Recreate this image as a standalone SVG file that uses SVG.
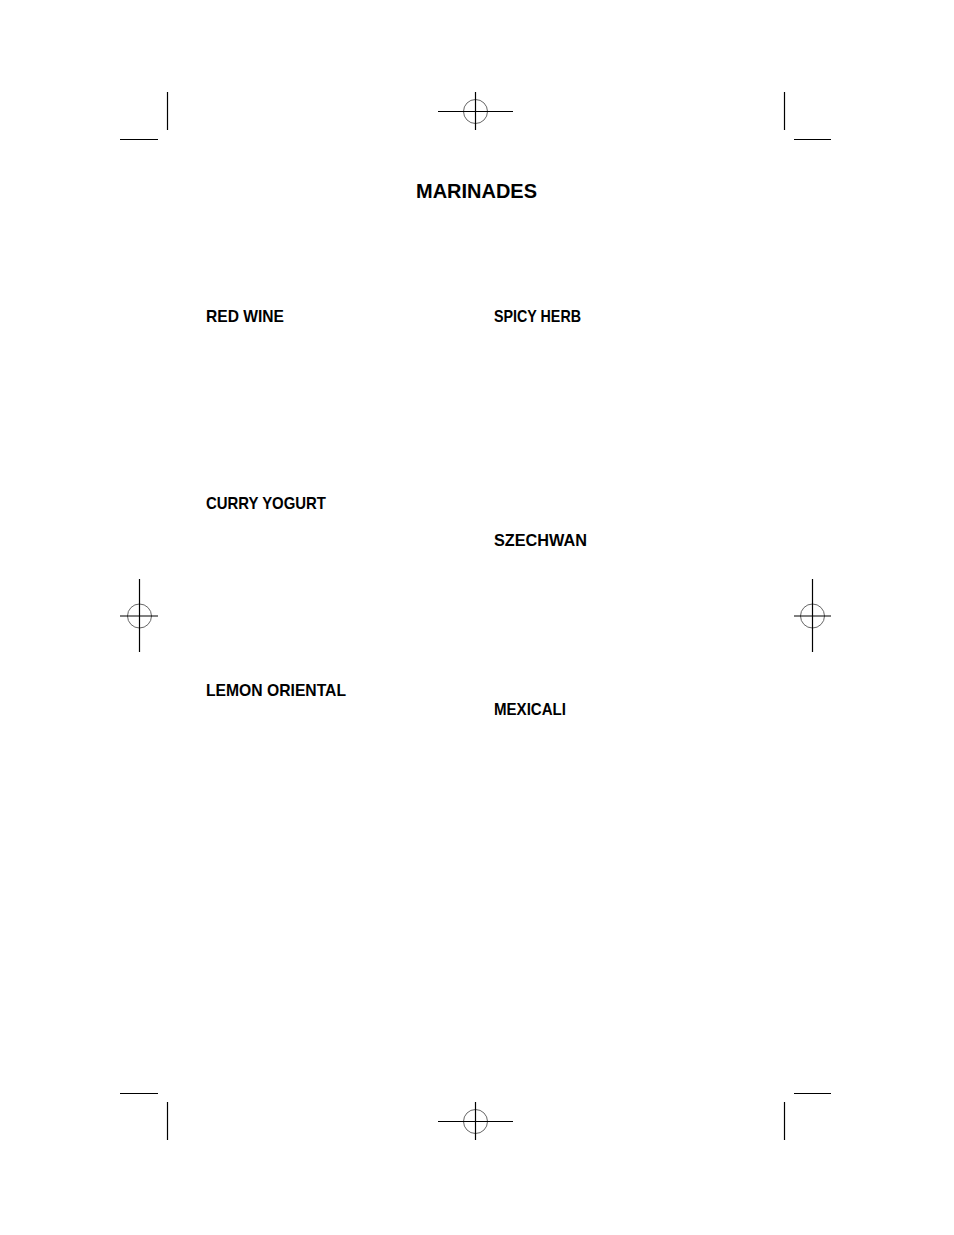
<svg xmlns="http://www.w3.org/2000/svg" width="954" height="1235" viewBox="0 0 954 1235">
<style>
.crop{stroke:#000;stroke-width:1.2;fill:none}
.reg{stroke:#555;stroke-width:0.9;fill:none}
.t{font-family:"Liberation Sans",Arial,sans-serif;font-weight:bold;fill:#000}
.h{font-size:17px}
.title{font-size:21px}
</style>
<rect width="954" height="1235" fill="#fff"/>
<g id="crop-marks">
<line class="crop" x1="167.5" y1="92" x2="167.5" y2="130"/>
<line class="crop" x1="120" y1="139.5" x2="158" y2="139.5"/>
<line class="crop" x1="784.5" y1="92" x2="784.5" y2="130"/>
<line class="crop" x1="794" y1="139.5" x2="831" y2="139.5"/>
<line class="crop" x1="167.5" y1="1102" x2="167.5" y2="1140"/>
<line class="crop" x1="120" y1="1093.5" x2="158" y2="1093.5"/>
<line class="crop" x1="784.5" y1="1102" x2="784.5" y2="1140"/>
<line class="crop" x1="794" y1="1093.5" x2="831" y2="1093.5"/>
</g>
<g id="reg-top">
<circle class="reg" cx="475.5" cy="111.5" r="12"/>
<line class="crop" x1="438" y1="111.5" x2="513" y2="111.5"/>
<line class="crop" x1="475.5" y1="92" x2="475.5" y2="130"/>
</g>
<g id="reg-bottom">
<circle class="reg" cx="475.5" cy="1121.5" r="12"/>
<line class="crop" x1="438" y1="1121.5" x2="513" y2="1121.5"/>
<line class="crop" x1="475.5" y1="1102" x2="475.5" y2="1140"/>
</g>
<g id="reg-left">
<circle class="reg" cx="139.5" cy="616" r="12"/>
<line class="crop" x1="120" y1="616" x2="158" y2="616"/>
<line class="crop" x1="139.5" y1="579" x2="139.5" y2="652"/>
</g>
<g id="reg-right">
<circle class="reg" cx="812.5" cy="616" r="12"/>
<line class="crop" x1="794" y1="616" x2="831" y2="616"/>
<line class="crop" x1="812.5" y1="579" x2="812.5" y2="652"/>
</g>
<g id="title"><text class="t title" x="416" y="198" textLength="121" lengthAdjust="spacingAndGlyphs">MARINADES</text></g>
<g id="red-wine"><text class="t h" x="206" y="322" textLength="78" lengthAdjust="spacingAndGlyphs">RED WINE</text></g>
<g id="spicy-herb"><text class="t h" x="494" y="322" textLength="87" lengthAdjust="spacingAndGlyphs">SPICY HERB</text></g>
<g id="curry-yogurt"><text class="t h" x="206" y="509" textLength="120" lengthAdjust="spacingAndGlyphs">CURRY YOGURT</text></g>
<g id="szechwan"><text class="t h" x="494" y="546" textLength="93" lengthAdjust="spacingAndGlyphs">SZECHWAN</text></g>
<g id="lemon-oriental"><text class="t h" x="206" y="696" textLength="140" lengthAdjust="spacingAndGlyphs">LEMON ORIENTAL</text></g>
<g id="mexicali"><text class="t h" x="494" y="715" textLength="72" lengthAdjust="spacingAndGlyphs">MEXICALI</text></g>
</svg>
